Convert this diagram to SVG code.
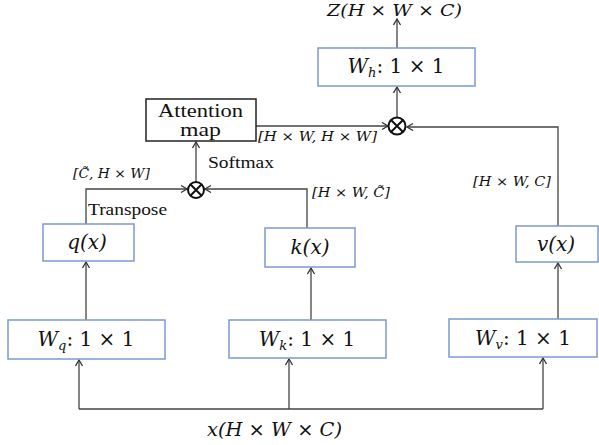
<svg xmlns="http://www.w3.org/2000/svg" width="599" height="445" viewBox="0 0 599 445">
<defs>
<marker id="arr" markerUnits="userSpaceOnUse" markerWidth="10" markerHeight="10" refX="7" refY="4" orient="auto">
<path d="M1,0.5 L7,4 L1,7.5" fill="none" stroke="#333" stroke-width="1.3"/>
</marker>
<style>
.box{fill:#fff;stroke:#7b9bd0;stroke-width:1.5}
.abox{fill:#fff;stroke:#222;stroke-width:1.5}
.ln{fill:none;stroke:#444;stroke-width:1.3}
.m{font-family:"DejaVu Serif","Liberation Serif",serif;font-style:italic;fill:#111}
.mu{font-family:"DejaVu Serif","Liberation Serif",serif;font-style:normal;fill:#111}
.t{font-family:"Liberation Serif","Times New Roman",serif;fill:#111}
.otimes{fill:#fff;stroke:#111;stroke-width:2}
</style>
</defs>
<rect width="599" height="445" fill="#fff"/>

<g id="connectors">
<path class="ln" d="M79,409 H543"/>
<path class="ln" d="M79,409 V360" marker-end="url(#arr)"/>
<path class="ln" d="M289,409 V359" marker-end="url(#arr)"/>
<path class="ln" d="M543,409 V358" marker-end="url(#arr)"/>
<path class="ln" d="M86,320 V262" marker-end="url(#arr)"/>
<path class="ln" d="M311,320 V268" marker-end="url(#arr)"/>
<path class="ln" d="M558,319 V263" marker-end="url(#arr)"/>
<path class="ln" d="M86,224 V189 H187" marker-end="url(#arr)"/>
<path class="ln" d="M307,228 V189 H205" marker-end="url(#arr)"/>
<path class="ln" d="M196,182 V142" marker-end="url(#arr)"/>
<path class="ln" d="M256,126 H388" marker-end="url(#arr)"/>
<path class="ln" d="M558,226 V127 H407" marker-end="url(#arr)"/>
<path class="ln" d="M397,117 V87" marker-end="url(#arr)"/>
<path class="ln" d="M397,48 V19" marker-end="url(#arr)"/>
</g>

<g id="x_label"><text class="m" x="207" y="436" font-size="18" textLength="135" lengthAdjust="spacingAndGlyphs">x(H × W × C)</text></g>
<g id="z_label"><text class="m" x="327" y="16" font-size="16" textLength="135" lengthAdjust="spacingAndGlyphs">Z(H × W × C)</text></g>

<g id="Wq"><rect class="box" x="8" y="320" width="157" height="39"/>
<text class="m" x="86" y="346" font-size="20" text-anchor="middle">W<tspan font-size="13" dy="4">q</tspan><tspan class="mu" dy="-4">: 1 × 1</tspan></text></g>
<g id="Wk"><rect class="box" x="229" y="320" width="157" height="38"/>
<text class="m" x="307" y="346" font-size="20" text-anchor="middle">W<tspan font-size="13" dy="4">k</tspan><tspan class="mu" dy="-4">: 1 × 1</tspan></text></g>
<g id="Wv"><rect class="box" x="449" y="319" width="148" height="38"/>
<text class="m" x="523" y="345" font-size="20" text-anchor="middle">W<tspan font-size="13" dy="4">v</tspan><tspan class="mu" dy="-4">: 1 × 1</tspan></text></g>

<g id="q"><rect class="box" x="43" y="224" width="91" height="37"/>
<text class="m" x="87" y="249" font-size="20" text-anchor="middle">q(x)</text></g>
<g id="k"><rect class="box" x="265" y="228" width="90" height="39"/>
<text class="m" x="310" y="254" font-size="20" text-anchor="middle">k(x)</text></g>
<g id="v"><rect class="box" x="516" y="226" width="82" height="36"/>
<text class="m" x="556" y="251" font-size="20" text-anchor="middle">v(x)</text></g>

<g id="mul1"><circle class="otimes" cx="196" cy="190" r="8"/>
<path d="M190.3,184.3 L201.7,195.7 M201.7,184.3 L190.3,195.7" stroke="#111" stroke-width="2"/></g>
<g id="mul2"><circle class="otimes" cx="397" cy="126" r="8.5"/>
<path d="M391,120 L403,132 M403,120 L391,132" stroke="#111" stroke-width="2"/></g>

<g id="attn"><rect class="abox" x="146" y="99" width="110" height="42"/>
<text class="t" x="158" y="117" font-size="19" textLength="85" lengthAdjust="spacingAndGlyphs">Attention</text>
<text class="t" x="180" y="136" font-size="19" textLength="41" lengthAdjust="spacingAndGlyphs">map</text></g>

<g id="Wh"><rect class="box" x="318" y="48" width="157" height="38"/>
<text class="m" x="396" y="73" font-size="20" text-anchor="middle">W<tspan font-size="13" dy="4">h</tspan><tspan class="mu" dy="-4">: 1 × 1</tspan></text></g>

<g id="labels">
<text class="t" x="208" y="168" font-size="16" textLength="66" lengthAdjust="spacingAndGlyphs">Softmax</text>
<text class="t" x="88" y="215" font-size="16" textLength="79" lengthAdjust="spacingAndGlyphs">Transpose</text>
<text class="m" x="73" y="178" font-size="13" textLength="77" lengthAdjust="spacingAndGlyphs">[C̃, H × W]</text>
<text class="m" x="312" y="197" font-size="13" textLength="78" lengthAdjust="spacingAndGlyphs">[H × W, C̃]</text>
<text class="m" x="473" y="186" font-size="13" textLength="78" lengthAdjust="spacingAndGlyphs">[H × W, C]</text>
<text class="m" x="258" y="141" font-size="13" textLength="119" lengthAdjust="spacingAndGlyphs">[H × W, H × W]</text>
</g>
</svg>
